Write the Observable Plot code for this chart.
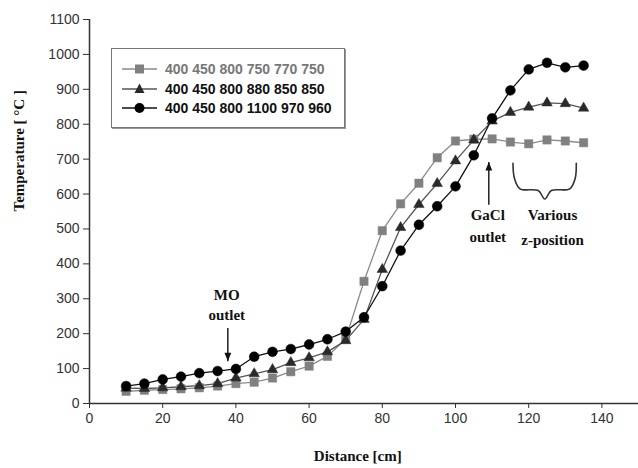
<!DOCTYPE html>
<html>
<head>
<meta charset="utf-8">
<script src="https://cdn.jsdelivr.net/npm/d3@7"></script>
<script src="https://cdn.jsdelivr.net/npm/@observablehq/plot@0.6"></script>
<style>
  html, body { margin: 0; padding: 0; background: #fff; }
  #wrap { position: relative; width: 638px; height: 468px; }
  #legend { position: absolute; left: 111px; top: 48px; height: 80px; padding: 0 12px 0 10px;
    border: 1px solid #777; box-shadow: 1px 1px 0 #999; background: #fff;
    font: bold 14px "Liberation Sans", Arial, sans-serif; box-sizing: border-box; }
  .row { display: flex; align-items: center; height: 19.8px; white-space: nowrap; }
  .row svg { margin-right: 7px; }
</style>
</head>
<body>
<div id="wrap"></div>
<script>
// ---- data ----
const distance = [10, 15, 20, 25, 30, 35, 40, 45, 50, 55, 60, 65, 70, 75, 80, 85, 90, 95, 100, 105, 110, 115, 120, 125, 130, 135];
const profile750 = [35, 38, 40, 42, 45, 50, 57, 61, 73, 91, 107, 135, 185, 350, 495, 572, 631, 704, 752, 757, 758, 749, 744, 755, 752, 747];
const profile850 = [44, 43, 45, 48, 51, 57, 73, 85, 97, 117, 131, 148, 180, 241, 384, 504, 570, 630, 695, 755, 809, 834, 849, 861, 859, 846];
const profile960 = [50, 57, 69, 77, 87, 93, 99, 134, 148, 156, 169, 184, 206, 247, 336, 438, 512, 565, 622, 711, 817, 897, 957, 976, 963, 968];
const seriesLabels = ["400 450 800 750 770 750", "400 450 800 880 850 850", "400 450 800 1100 970 960"];
const xTicks = [0, 20, 40, 60, 80, 100, 120, 140];
const yTicks = [0, 100, 200, 300, 400, 500, 600, 700, 800, 900, 1000, 1100];

// annotations (data units)
const notes = [
  {x: 37.5, y: 311, text: "MO"},
  {x: 37.5, y: 253, text: "outlet"},
  {x: 108.8, y: 540, text: "GaCl"},
  {x: 108.8, y: 476, text: "outlet"},
  {x: 126.5, y: 540, text: "Various"},
  {x: 126.5, y: 469, text: "z-position"}
];
const arrows = [
  {x: 37.8, y1: 216, y2: 121, dir: 180},
  {x: 109.1, y1: 569, y2: 692, dir: 0}
];
const braceX = [115.7, 116.1, 117.6, 122.6, 124.4, 126.2, 131.2, 132.7, 133.0];
const braceY = [688, 645, 615, 610, 586, 610, 615, 645, 688];

// ---- styles ----
const styles = [
  {values: profile750, fill: "#808080", line: "#8a8a8a", symbol: "square", r: 4.7},
  {values: profile850, fill: "#2a2a2a", line: "#555", symbol: "triangle", r: 3.9},
  {values: profile960, fill: "#000", line: "#111", symbol: "circle", r: 4.9}
];

const rowsFor = (vals) => distance.map((d, i) => ({d, t: vals[i]}));
const arrowHead = {draw(ctx) { ctx.moveTo(0, 0); ctx.lineTo(-3.4, 8.5); ctx.lineTo(3.4, 8.5); ctx.closePath(); }};
const brace = braceX.map((x, i) => ({x, y: braceY[i]}));
const serif = "'Liberation Serif', 'Times New Roman', serif";

const marks = [
  Plot.ruleX([0], {stroke: "#333", strokeWidth: 1.5}),
  Plot.ruleY([0], {stroke: "#333", strokeWidth: 1.5}),
  Plot.axisX({ticks: xTicks, tickSize: 5, tickPadding: 5, fontSize: 14, color: "#333", label: null, tickFormat: (d) => String(d)}),
  Plot.axisY({ticks: yTicks, tickSize: 6, tickPadding: 4, fontSize: 14, color: "#333", label: null, tickFormat: (d) => String(d)}),
];
for (const s of styles) {
  const rows = rowsFor(s.values);
  marks.push(Plot.line(rows, {x: "d", y: "t", stroke: s.line, strokeWidth: 1.3}));
}
for (const s of styles) {
  const rows = rowsFor(s.values);
  marks.push(Plot.dot(rows, {x: "d", y: "t", symbol: s.symbol, r: s.r, fill: s.fill, stroke: s.fill, strokeWidth: 0.5}));
}
marks.push(
  Plot.link(arrows, {x1: "x", x2: "x", y1: "y1", y2: "y2", stroke: "#111", strokeWidth: 1.4}),
  Plot.dot(arrows, {x: "x", y: "y2", symbol: arrowHead, r: 3, fill: "#111", rotate: "dir"}),
  Plot.line(brace, {x: "x", y: "y", curve: "catmull-rom", stroke: "#333", strokeWidth: 1.6}),
  Plot.text(notes, {x: "x", y: "y", text: "text", fontFamily: serif, fontWeight: "bold", fontSize: 15, fill: "#111"}),
  Plot.text(["Distance [cm]"], {x: 73.3, frameAnchor: "bottom", dy: 57, fontFamily: serif, fontWeight: "bold", fontSize: 15, fill: "#111"}),
  Plot.text(["Temperature [ \u00B0C ]"], {frameAnchor: "left", dx: -70, rotate: -90, fontFamily: serif, fontWeight: "bold", fontSize: 15, fill: "#111"})
);

const chart = Plot.plot({
  width: 638,
  height: 468,
  marginLeft: 89,
  marginRight: 0,
  marginTop: 19,
  marginBottom: 65,
  x: {domain: [0, 150]},
  y: {domain: [0, 1100]},
  style: {fontFamily: "'Liberation Sans', Arial, sans-serif", background: "#fff", overflow: "visible"},
  marks
});
const wrap = document.getElementById("wrap");
wrap.appendChild(chart);

// ---- legend ----
const legend = document.createElement("div");
legend.id = "legend";
legend.style.paddingTop = "10px";
const shapes = {
  square: (c) => `<rect x="13" y="4.5" width="9" height="9" fill="${c}"/>`,
  triangle: (c) => `<path d="M17.5 3.5 L22.5 13 L12.5 13 Z" fill="${c}"/>`,
  circle: (c) => `<circle cx="17.5" cy="9" r="5" fill="${c}"/>`
};
const textColors = ["#777", "#111", "#111"];
styles.forEach((s, i) => {
  const row = document.createElement("div");
  row.className = "row";
  row.innerHTML = `<svg width="36" height="18"><line x1="0" x2="35" y1="9" y2="9" stroke="${s.line}" stroke-width="1.5"/>${shapes[s.symbol](s.fill)}</svg><span style="color:${textColors[i]}">${seriesLabels[i]}</span>`;
  legend.appendChild(row);
});
wrap.appendChild(legend);
</script>
</body>
</html>
